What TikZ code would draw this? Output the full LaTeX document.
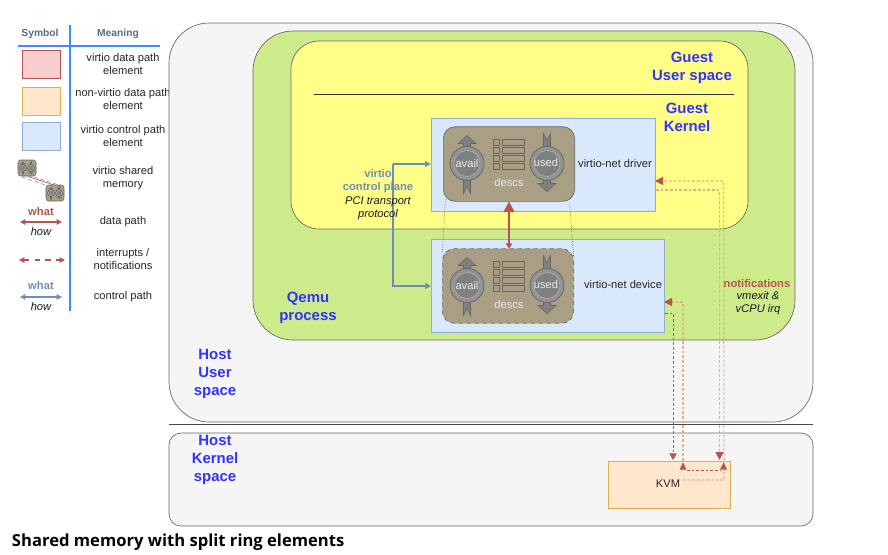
\documentclass[tikz,border=0pt]{standalone}
\usepackage{fontspec}
\setmainfont{Liberation Sans}
\newfontfamily\captionfont{Open Sans}
\usetikzlibrary{arrows.meta}
\definecolor{cf5f5f5}{RGB}{245,245,245}
\definecolor{c666666}{RGB}{102,102,102}
\definecolor{ccdeb8b}{RGB}{205,235,139}
\definecolor{cffff88}{RGB}{255,255,136}
\definecolor{cdae8fc}{RGB}{218,232,252}
\definecolor{c6c8ebf}{RGB}{108,142,191}
\definecolor{c8fadd6}{RGB}{143,173,214}
\definecolor{cffe6cc}{RGB}{255,230,204}
\definecolor{ce0b050}{RGB}{224,176,80}
\definecolor{cf8cecc}{RGB}{248,206,204}
\definecolor{cb85450}{RGB}{184,84,80}
\definecolor{ca89f85}{RGB}{168,159,133}
\definecolor{c3333ff}{RGB}{51,51,255}
\definecolor{c3d8bff}{RGB}{61,139,255}
\definecolor{c5a6a8a}{RGB}{90,106,138}
\definecolor{c808080}{RGB}{128,128,128}
\definecolor{ce8c8b0}{RGB}{226,178,130}
\tikzset{
  area/.style={draw=c666666,line width=0.5pt,fill=#1,rounded corners=30pt},
  bluebox/.style={draw=c8fadd6,line width=0.7pt,fill=cdae8fc},
  ringbox/.style={draw=c666666,line width=0.5pt,fill=ca89f85,rounded corners=9pt,
    minimum width=98.5pt,minimum height=56pt},
  plain/.style={font=\fontsize{8.35}{9.7}\selectfont,align=center,text=black!85},
  slanted/.style={font=\fontsize{8.35}{9.7}\selectfont\itshape,align=center,text=black!90},
  ringtext/.style={font=\fontsize{8.35}{9.7}\selectfont,text=white!92!black},
  place/.style={font=\fontsize{11.2}{13.5}\selectfont\bfseries,align=center,text=c3333ff},
  whatred/.style={font=\fontsize{8.4}{9.7}\selectfont\bfseries,align=center,text=cb85450},
  whatblue/.style={font=\fontsize{8.4}{9.7}\selectfont\bfseries,align=center,text=c6c8ebf},
  headtext/.style={font=\fontsize{7.7}{8}\selectfont\bfseries,text=c5a6a8a},
  notify/.style={draw=cb85450,line width=0.5pt,dash pattern=on 2pt off 1.5pt,
    -{Triangle[length=5pt,width=5.5pt]}},
  notifypale/.style={notify,draw=ce8c8b0,line width=0.8pt,
    -{Triangle[length=6pt,width=6pt,color=cb85450]}},
  ctrl/.style={draw=c6c8ebf,line width=0.9pt,{Triangle[length=4pt,width=4pt]}-{Triangle[length=4pt,width=4pt]}},
  datapath/.style={draw=cb85450,line width=0.9pt,{Triangle[length=4pt,width=4pt]}-{Triangle[length=4pt,width=4pt]}},
  ringarrow/.pic={
    \path[draw=c666666,line width=0.4pt,fill=c808080] (0,-28) -- (9,-20) -- (3.5,-20)
      -- (3.5,30) -- (0,23) -- (-3.5,30) -- (-3.5,-20) -- (-9,-20) -- cycle;
    \path[draw=c666666,line width=0.6pt,fill=c808080!85!white] (0,0) circle (17);
    \path[draw=c666666!50!white,line width=0.4pt,fill=c808080] (0,0) circle (13);
  },
  desclist/.pic={
    \foreach \row in {0,8,16,24.4} {
      \path[draw=c666666,line width=0.7pt] (-15.5,\row-3) rectangle (-9.5,\row+3);
      \path[draw=c666666,line width=0.7pt] (-7,\row-3) rectangle (15.5,\row+3);
    }
  },
}

\begin{document}
\begin{tikzpicture}[y=-0.75pt, x=0.75pt, inner sep=0pt, outer sep=0pt]
  \useasboundingbox (0,0) rectangle (888,554);

  % legend
  \draw[draw=c3d8bff,line width=1.2pt] (70,25) -- (70,311);
  \draw[draw=c3d8bff,line width=1.2pt] (18,46) -- (160,46);
  \node[headtext] (symbolhead) at (40,33.5) {Symbol};
  \node[headtext] (meaninghead) at (118,33.5) {Meaning};
  \path[draw=cb85450,fill=cf8cecc,line width=0.6pt] (22,50.5) rectangle (60,78.5);
  \path[draw=ce0b050,fill=cffe6cc,line width=0.6pt] (22,87) rectangle (60,115);
  \path[draw=c8fadd6,fill=cdae8fc,line width=0.6pt] (22,122) rectangle (60,150);
  \draw[densely dashed,draw=c666666,line width=0.3pt] (22,177) -- (48,186);
  \draw[densely dashed,draw=c666666,line width=0.3pt] (34,177) -- (62,186);
  \draw[draw=cb85450,line width=0.5pt] (28,176.5) -- (54,185);
  \path[draw=c666666,line width=0.4pt,fill=ca89f85,rounded corners=2pt] (18,160) rectangle (36,176);
  \path[draw=c666666,line width=0.4pt,fill=ca89f85,rounded corners=2pt] (46,185) rectangle (64,201);
  \foreach \xpos/\ypos/\turn in {23/168/0,31/168/180,51/193/0,59/193/180}
    \pic[scale=0.2,rotate=\turn] at (\xpos,\ypos) {ringarrow};
  \node[plain] (meanrow1) at (123,64) {virtio data path\\element};
  \node[plain] (meanrow2) at (123,99) {non-virtio data path\\element};
  \node[plain] (meanrow3) at (123,136) {virtio control path\\element};
  \node[plain] (meanrow4) at (123,178) {virtio shared\\memory};
  \node[plain] (meanrow5) at (123,221.5) {data path};
  \node[plain] (meanrow6) at (123,259) {interrupts /\\notifications};
  \node[plain] (meanrow7) at (123,296.5) {control path};
  \node[whatred] (whatdata) at (41,211.5) {what};
  \node[slanted] (howdata) at (41,231.5) {how};
  \node[whatblue] (whatctrl) at (41,285.5) {what};
  \node[slanted] (howctrl) at (41,306.5) {how};
  \coordinate (dataleft) at (20,222);
  \coordinate (dataright) at (62,222);
  \coordinate (irqleft) at (19,260);
  \coordinate (irqright) at (65,260);
  \coordinate (ctrlleft) at (20,297);
  \coordinate (ctrlright) at (62,297);
  \draw[datapath] (dataleft) -- (dataright);
  \draw[draw=cb85450,line width=0.9pt,dash pattern=on 4pt off 4pt,
    {Triangle[length=4pt,width=4pt]}-{Triangle[length=4pt,width=4pt]}] (irqleft) -- (irqright);
  \draw[ctrl] (ctrlleft) -- (ctrlright);

  % host and qemu areas
  \node[area=cf5f5f5,minimum width=483pt,minimum height=299.25pt] (hostuser) at (491,222.5) {};
  \node[area=cf5f5f5,rounded corners=9pt,minimum width=483pt,minimum height=69.75pt] (hostkernel) at (491,479.5) {};
  \draw[draw=c666666!70!black,line width=0.6pt] (169,424) -- (813,424);
  \node[area=ccdeb8b,minimum width=406.5pt,minimum height=231.75pt] (qemu) at (524,185.5) {};
  \node[area=cffff88,rounded corners=21pt,minimum width=342.75pt,minimum height=141pt] (guest) at (519.5,135) {};
  \draw[draw=black!80,line width=0.6pt] (314,94) -- (734,94);

  % driver and device
  \node[bluebox,minimum width=168pt,minimum height=69.75pt] (driver) at (543,164.5) {};
  \node[bluebox,minimum width=174.75pt,minimum height=69.75pt] (device) at (547.5,285.5) {};
  \node[draw=ce0b050,line width=0.6pt,fill=cffe6cc,minimum width=91.5pt,minimum height=35.25pt] (kvm) at (669,484.5) {};
  \node[plain] (kvmtext) at (668,483.5) {KVM};
  \node[plain] (drivertext) at (615,163.5) {virtio-net driver};
  \node[plain] (devicetext) at (623,284.5) {virtio-net device};

  % rings
  \node[ringbox] (drivering) at (509,164) {};
  \node[ringbox,dashed] (devicering) at (508,286) {};
  \draw[densely dotted,draw=c666666,line width=0.5pt] (drivering.south west) ++(2,-2) -- ([shift={(0,4)}]devicering.north west);
  \draw[densely dotted,draw=c666666,line width=0.5pt] (drivering.south east) ++(-5,2) -- ([shift={(0,9)}]devicering.north east);
  \draw[draw=cb85450,line width=1.3pt,{Triangle[length=8pt,width=8pt]}-{Triangle[length=4pt,width=5pt]}] (drivering.south) -- (devicering.north -| drivering.south);
  \foreach \ringname/\ypos in {driver/163.5,device/285.5} {
    \pic at (467,\ypos) {ringarrow};
    \pic[rotate=180] at (547,\ypos) {ringarrow};
    \pic at (509,\ypos-21) {desclist};
    \node[ringtext] (\ringname avail) at (467,\ypos) {avail};
    \node[ringtext] (\ringname used) at (546,\ypos-1) {used};
    \node[ringtext] (\ringname descs) at (509,\ypos+19) {descs};
  }

  % control path
  \coordinate (ctrlbend) at (393,164);
  \draw[draw=c6c8ebf,line width=0.9pt,-{Triangle[length=4.5pt,width=4.5pt]}] (ctrlbend) -- (driver.west |- ctrlbend);
  \draw[draw=c6c8ebf,line width=0.9pt,-{Triangle[length=4.5pt,width=4.5pt]}] (ctrlbend) -- (393,286) -- (device.west |- 393,286);
  \node[whatblue] (planetext) at (378,181) {virtio\\control plane};
  \node[slanted] (pcitext) at (378,208) {PCI transport\\protocol};

  % notifications
  \coordinate (kvmup) at (683,480);
  \coordinate (kvmright) at (724,480);
  \coordinate (kvmupb) at (687,470);
  \coordinate (kvmrightb) at (720,470);
  \draw[notifypale] (kvmup) -- (kvmright) -- (723.5,181) -- (driver.east |- 0,181);
  \draw[notifypale] (driver.east |- 0,190) ++(1,0) -- (719.5,190) -- (719.5,460);
  \draw[notifypale] (683,470) -- (683,302) -- (device.east |- 0,302);
  \draw[notify,-] (kvmupb) -- (kvmrightb);
  \draw[notify] (device.east |- 0,313) ++(1,0) -- (673,313) -- (673,460);
  \path[fill=cb85450] (683,462.5) -- (686.5,469.5) -- (679.5,469.5) -- cycle;
  \path[fill=cb85450] (723.5,462.5) -- (727,469.5) -- (720,469.5) -- cycle;
  \node[whatred] (notiftext) at (757,283.5) {notifications};
  \node[slanted] (vmexittext) at (758,303.5) {vmexit \&\\vCPU irq};

  % place names
  \node[place] (guestuser) at (692,67.5) {Guest\\User space};
  \node[place] (guestkernel) at (687,117.5) {Guest\\Kernel};
  \node[place] (qemutext) at (308,307.5) {Qemu\\process};
  \node[place] (hostusertext) at (215,373.5) {Host\\User\\space};
  \node[place] (hostkerneltext) at (215,459.5) {Host\\Kernel\\space};

  \node[font=\fontsize{12.45}{15}\captionfont\bfseries,text=black,anchor=west] (caption) at (12,542) {Shared memory with split ring elements};

\end{tikzpicture}
\end{document}
